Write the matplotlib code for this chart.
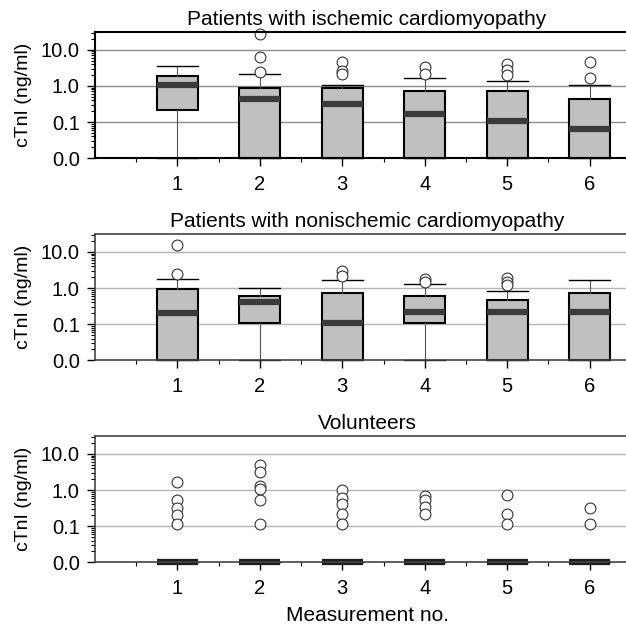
import numpy as np
import matplotlib
matplotlib.use("Agg")
import matplotlib.pyplot as plt
from matplotlib.ticker import FixedLocator, LogLocator, NullFormatter

plt.rcParams["font.family"] = ["Liberation Sans", "DejaVu Sans"]

measurements = [1, 2, 3, 4, 5, 6]
titles = ["Patients with ischemic cardiomyopathy",
          "Patients with nonischemic cardiomyopathy",
          "Volunteers"]

# box statistics (0.01 = axis floor, labelled "0.0")
ischemic_whislo = [0.01, 0.01, 0.01, 0.01, 0.01, 0.01]
ischemic_q1 = [0.22, 0.01, 0.01, 0.01, 0.01, 0.01]
ischemic_med = [1.09, 0.43, 0.32, 0.17, 0.11, 0.063]
ischemic_q3 = [1.9, 0.85, 0.85, 0.74, 0.74, 0.44]
ischemic_whishi = [3.6, 2.15, 1.07, 1.7, 1.38, 1.07]
ischemic_fliers = [[], [28, 6.5, 2.4], [4.7, 2.6, 2.2], [3.4, 2.15],
                   [4.0, 2.7, 2.0], [4.7, 1.63]]

nonischemic_whislo = [0.01, 0.01, 0.01, 0.01, 0.01, 0.01]
nonischemic_q1 = [0.01, 0.11, 0.01, 0.11, 0.01, 0.01]
nonischemic_med = [0.21, 0.41, 0.11, 0.22, 0.22, 0.22]
nonischemic_q3 = [0.95, 0.61, 0.71, 0.61, 0.47, 0.71]
nonischemic_whishi = [1.79, 1.0, 1.72, 1.3, 0.82, 1.72]
nonischemic_fliers = [[15.2, 2.4], [], [3.0, 2.1], [1.8, 1.5],
                      [1.95, 1.48, 1.2], []]

volunteer_whislo = [0.01, 0.01, 0.01, 0.01, 0.01, 0.01]
volunteer_q1 = [0.01, 0.01, 0.01, 0.01, 0.01, 0.01]
volunteer_med = [0.01, 0.01, 0.01, 0.01, 0.01, 0.01]
volunteer_q3 = [0.01, 0.01, 0.01, 0.01, 0.01, 0.01]
volunteer_whishi = [0.01, 0.01, 0.01, 0.01, 0.01, 0.01]
volunteer_fliers = [[1.62, 0.52, 0.32, 0.21, 0.114],
                    [5.0, 3.1, 1.31, 1.06, 0.52, 0.114],
                    [1.02, 0.62, 0.42, 0.215, 0.114],
                    [0.67, 0.52, 0.34, 0.215],
                    [0.71, 0.215, 0.114],
                    [0.31, 0.114]]

groups = [
    (ischemic_whislo, ischemic_q1, ischemic_med, ischemic_q3, ischemic_whishi, ischemic_fliers),
    (nonischemic_whislo, nonischemic_q1, nonischemic_med, nonischemic_q3, nonischemic_whishi, nonischemic_fliers),
    (volunteer_whislo, volunteer_q1, volunteer_med, volunteer_q3, volunteer_whishi, volunteer_fliers),
]

fig = plt.figure(figsize=(6.26, 6.30), dpi=100)
bottoms = [0.749, 0.428, 0.1075]
med_colors = ["#3a3a3a", "#3a3a3a", "#1e1e1e"]

for i, (lo, q1, med, q3, hi, fl) in enumerate(groups):
    ax = fig.add_axes([0.1518, bottoms[i], 0.869, 0.201])
    stats = []
    for j in range(len(measurements)):
        stats.append({"whislo": lo[j], "q1": q1[j], "med": med[j],
                      "q3": q3[j], "whishi": hi[j], "fliers": fl[j]})
    arts = ax.bxp(stats, positions=measurements, widths=0.5, capwidths=0.5,
                  patch_artist=True,
                  boxprops=dict(facecolor="#c0c0c0", edgecolor="black", linewidth=1.5),
                  medianprops=dict(color=med_colors[i], linewidth=4.5, solid_capstyle="butt"),
                  whiskerprops=dict(color="#555555", linewidth=0.8),
                  capprops=dict(color="black", linewidth=1.0),
                  flierprops=dict(marker="o", markersize=7.8, markerfacecolor="white",
                                  markeredgecolor="#333333", markeredgewidth=0.8))
    for key in arts:
        for a in arts[key]:
            a.set_clip_on(False)

    ax.set_yscale("log")
    ax.set_ylim(0.01, 32)
    ax.set_xlim(0, 6.6)
    ax.yaxis.set_major_locator(FixedLocator([0.01, 0.1, 1, 10]))
    ax.set_yticklabels(["0.0", "0.1", "1.0", "10.0"])
    ax.yaxis.set_minor_locator(LogLocator(base=10, subs=np.arange(2, 10)))
    ax.yaxis.set_minor_formatter(NullFormatter())
    ax.set_xticks(measurements)
    ax.set_xticks([m - 0.5 for m in measurements] + [6.5], minor=True)

    for g in [0.1, 1, 10]:
        ax.axhline(g, color="#8c8c8c" if i == 0 else "#b5b5b5", linewidth=1.0, zorder=0)

    spine_col = "black" if i == 0 else "#444444"
    ax.spines["right"].set_visible(False)
    for s in ["left", "bottom", "top"]:
        ax.spines[s].set_color(spine_col)
        ax.spines[s].set_linewidth(1.5 if i == 0 else 1.2)
    ax.tick_params(axis="both", which="major", length=6, width=1.0,
                   labelsize=14.5, colors="black")
    ax.tick_params(axis="x", which="major", pad=6)
    ax.tick_params(axis="y", which="major", pad=5)
    ax.tick_params(axis="both", which="minor", length=3, width=0.8)
    ax.set_ylabel("cTnI (ng/ml)", fontsize=14, labelpad=6)
    ax.set_title(titles[i], fontsize=15, pad=5)

    if i == 2:
        ax.set_xlabel("Measurement no.", fontsize=15, labelpad=6)

fig.savefig("out.png", dpi=100)
